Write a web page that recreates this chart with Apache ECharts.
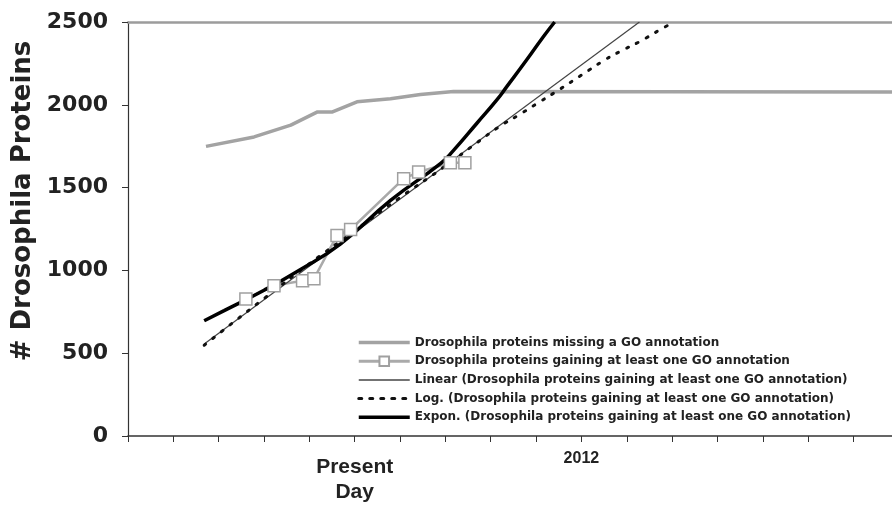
<!DOCTYPE html>
<html>
<head>
<meta charset="utf-8">
<script src="https://cdn.jsdelivr.net/npm/echarts@6/dist/echarts.min.js"></script>
<style>
  html, body { margin: 0; padding: 0; background: #fff; }
  #main { width: 892px; height: 521px; }
</style>
</head>
<body>
<div id="main"></div>
<script>
// x in tick units (tick 5 = Present Day, tick 10 = 2012)
var missingX = [1.72, 2.78, 3.59, 4.18, 4.51, 5.05, 5.79, 6.45, 7.18, 16.85];
var missingY = [1749, 1806, 1877, 1957, 1957, 2018, 2037, 2062, 2080, 2078];

var gainX = [2.60, 3.22, 3.85, 4.10, 4.61, 4.91, 6.08, 6.41, 7.11, 7.43];
var gainY = [827, 908, 938, 949, 1211, 1247, 1554, 1594, 1650, 1650];

var linX = [1.68, 11.28];
var linY = [555, 2500];

var logX = [1.68, 2.34, 3.0, 4.0, 5.0, 6.0, 7.0, 7.69, 8.2, 8.61, 9.08, 9.49, 10.0, 10.51, 10.91, 11.28, 11.79, 12.05];
var logY = [548, 690, 830, 1040, 1240, 1440, 1630, 1770, 1870, 1937, 2018, 2088, 2179, 2270, 2330, 2381, 2462, 2500];

var expX = [1.68, 2.12, 3.0, 3.74, 4.69, 5.79, 6.89, 7.18, 7.69, 8.13, 8.35, 8.79, 9.16, 9.41];
var expY = [696, 757, 880, 995, 1160, 1423, 1645, 1725, 1887, 2028, 2108, 2270, 2411, 2500];

var yTicks = [0, 500, 1000, 1500, 2000, 2500];

var names = [
  'Drosophila proteins missing a GO annotation',
  'Drosophila proteins gaining at least one GO annotation',
  'Linear (Drosophila proteins gaining at least one GO annotation)',
  'Log. (Drosophila proteins gaining at least one GO annotation)',
  'Expon. (Drosophila proteins gaining at least one GO annotation)'
];

function pairs(xs, ys) {
  return xs.map(function (x, i) { return [x, ys[i]]; });
}

// legend: hide symbols of the plain line series, thicken the sample lines
var legendLines = [
  { color: '#a3a3a3', width: 3.5 },
  { color: '#aaaaaa', width: 3 },
  { color: '#444', width: 1.5 },
  { color: '#111', width: 3, type: [3, 8] },
  { color: '#000', width: 3.5 }
];
var legendData = names.map(function (n, i) {
  var item = { name: n, lineStyle: legendLines[i] };
  if (i !== 1) item.itemStyle = { opacity: 0 };
  return item;
});

var chart = echarts.init(document.getElementById('main'));

var option = {
  animation: false,
  backgroundColor: '#fff',
  grid: { left: 128, right: 0, top: 22, bottom: 85, containLabel: false },
  legend: {
    orient: 'vertical',
    left: 352,
    top: 331.5,
    itemWidth: 51,
    itemHeight: 12,
    itemGap: 6.7,
    data: legendData,
    textStyle: { fontFamily: 'DejaVu Sans', fontWeight: 'bold', fontSize: 12, color: '#222' }
  },
  xAxis: [{
    type: 'value',
    min: 0,
    max: 16.85,
    interval: 1,
    axisLine: { lineStyle: { color: '#333', width: 1.5 } },
    axisTick: { length: 6, lineStyle: { color: '#333' } },
    splitLine: { show: false },
    axisLabel: {
      margin: 14,
      showMaxLabel: false,
      formatter: function (v) {
        if (v === 5) return '{big|Present}\n{big|Day}';
        if (v === 10) return '{small|2012}';
        return '';
      },
      rich: {
        big: { fontFamily: 'Liberation Sans', fontWeight: 'bold', fontSize: 21, lineHeight: 25, color: '#222', padding: [10, 0, 0, 0] },
        small: { fontFamily: 'Liberation Sans', fontWeight: 'bold', fontSize: 16, lineHeight: 18, color: '#222' }
      }
    }
  }, {
    type: 'value',
    position: 'top',
    min: 0,
    max: 16.85,
    axisLine: { show: true, lineStyle: { color: '#9c9c9c', width: 2.5 } },
    axisTick: { show: false },
    axisLabel: { show: false },
    splitLine: { show: false }
  }],
  yAxis: {
    type: 'value',
    min: 0,
    max: 2500,
    interval: 500,
    name: '# Drosophila Proteins',
    nameLocation: 'middle',
    nameGap: 92,
    nameTextStyle: { fontFamily: 'DejaVu Sans', fontWeight: 'bold', fontSize: 26, color: '#222', padding: [0, 0, 0, 56] },
    axisLine: { show: true, lineStyle: { color: '#333', width: 1.2 } },
    axisTick: { show: true, length: 6, lineStyle: { color: '#333' } },
    splitLine: { show: false },
    axisLabel: {
      margin: 20,
      fontFamily: 'DejaVu Sans',
      fontWeight: 'bold',
      fontSize: 22,
      color: '#222',
      formatter: function (v) { return yTicks.indexOf(v) >= 0 ? String(v) : ''; }
    }
  },
  series: [{
    name: names[0],
    type: 'line',
    data: pairs(missingX, missingY),
    symbol: 'none',
    lineStyle: { color: '#a3a3a3', width: 3.5 },
    itemStyle: { color: '#a3a3a3' }
  }, {
    name: names[1],
    type: 'line',
    data: pairs(gainX, gainY),
    symbol: 'rect',
    symbolSize: 12,
    lineStyle: { color: '#aaaaaa', width: 2.5 },
    itemStyle: { color: '#fff', borderColor: '#a0a0a0', borderWidth: 1.5 }
  }, {
    name: names[2],
    type: 'line',
    data: pairs(linX, linY),
    symbol: 'none',
    lineStyle: { color: '#444', width: 1.2 },
    itemStyle: { color: '#444' }
  }, {
    name: names[3],
    type: 'line',
    data: pairs(logX, logY),
    symbol: 'none',
    smooth: true,
    lineStyle: { color: '#111', width: 3, type: [2, 9], cap: 'round' },
    itemStyle: { color: '#111' }
  }, {
    name: names[4],
    type: 'line',
    data: pairs(expX, expY),
    symbol: 'none',
    smooth: true,
    lineStyle: { color: '#000', width: 3.5 },
    itemStyle: { color: '#000' }
  }]
};

chart.setOption(option);
</script>
</body>
</html>
